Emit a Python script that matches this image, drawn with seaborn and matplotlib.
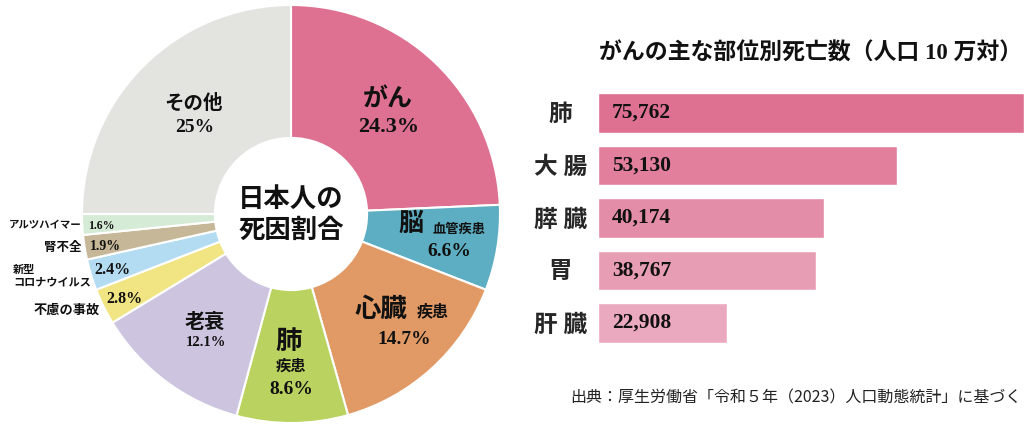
import numpy as np
import pandas as pd
import seaborn as sns
import matplotlib.pyplot as plt

# 死因割合 (%)
causes = ["がん", "脳血管疾患", "心臓疾患", "肺疾患", "老衰", "不慮の事故",
          "新型コロナウイルス", "腎不全", "アルツハイマー", "その他"]
shares = [24.3, 6.6, 14.7, 8.6, 12.1, 2.8, 2.4, 1.9, 1.6, 25]
pie_colors = ["#de7191", "#5daec3", "#e19a66", "#b9d260", "#cdc5e0",
              "#f0e483", "#b3dcf2", "#c5b797", "#d6ebd5", "#e3e3df"]

# がんの主な部位別死亡数
sites = ["肺", "大腸", "膵臓", "胃", "肝臓"]
deaths = [75762, 53130, 40174, 38767, 22908]
bar_colors = ["#de7191", "#e17f9d", "#e48da8", "#e79db4", "#eba9c0"]

title = "がんの主な部位別死亡数（人口 10 万対）"
source = "出典：厚生労働省「令和５年（2023）人口動態統計」に基づく"

sns.set_style("white")
plt.rcParams["font.family"] = ["Noto Sans CJK JP", "DejaVu Sans"]
serif = ["Liberation Serif", "Noto Sans CJK JP"]

fig = plt.figure(figsize=(10.24, 4.3), dpi=100)

# ---- donut ----
W, H = 1024, 430
cx, cy, R = 291, 214, 209
pax = fig.add_axes([(cx - R) / W, (H - cy - R) / H, 2 * R / W, 2 * R / H])
wedges, _ = pax.pie(shares, colors=pie_colors, startangle=90, counterclock=False,
                    radius=1, wedgeprops=dict(width=0.636, edgecolor="white", linewidth=1.5))
pax.set_xlim(-1, 1)
pax.set_ylim(-1, 1)
pax.set_aspect("equal")
pax.axis("off")


def px(x, y):
    # reference pixel -> donut data coords
    return (x - cx) / R, (cy - y) / R


def put(x, y, s, size, ha="center", weight="bold"):
    pax.text(*px(x, y), s, fontsize=size, ha=ha, va="center",
             family=serif, weight=weight, color="#111111")


pct = [f"{v:g}%" for v in shares]

put(291, 199, "日本人の", 19)
put(291, 231, "死因割合", 19)

put(388, 100, "がん", 18)
put(389, 127, pct[0], 16)
put(193, 103, "その他", 14)
put(195, 128, pct[9], 14)
put(411, 224, "脳", 18)
put(459, 230, "血管疾患", 9.5)
put(449, 252, pct[1], 14)
put(381, 310, "心臓", 19)
put(433, 312, "疾患", 11.5)
put(404, 340, pct[2], 14)
put(289, 342, "肺", 19)
put(291, 367, "疾患", 11)
put(291, 389, pct[3], 14)
put(205, 323, "老衰", 14.5)
put(206, 343, pct[4], 10.5)
put(124, 299, pct[5], 11.5)
put(112, 270, pct[6], 11.5)
put(105, 247, pct[7], 10)
put(101, 226, pct[8], 8.5)

put(100, 311, "不慮の事故", 9.5, ha="right")
put(13, 270, "新型", 8, ha="left")
put(13, 283, "コロナウイルス", 8, ha="left")
put(81, 248, "腎不全", 9, ha="right")
put(81, 226, "アルツハイマー", 7.5, ha="right")

# ---- bars ----
top, bottom = 86.75, 349.25
bax = fig.add_axes([598 / W, (H - bottom) / H, 426 / W, (bottom - top) / H])
df = pd.DataFrame({"site": sites, "deaths": deaths})
sns.barplot(df, x="deaths", y="site", hue="site", palette=bar_colors,
            legend=False, width=0.76, saturation=1, ax=bax)
bax.set_xlim(0, max(deaths))
bax.set_ylim(len(sites) - 0.5, -0.5)
sns.despine(ax=bax, left=True, bottom=True)
bax.set_xticks([])
bax.set_xlabel("")
bax.set_ylabel("")
bax.tick_params(axis="y", length=0, pad=27)
bax.set_yticks(range(len(sites)), [" ".join(s) for s in sites])
for lab in bax.get_yticklabels():
    lab.set_ha("center")
    lab.set_fontsize(17)
    lab.set_fontweight("bold")
    lab.set_family(serif)
for i, v in enumerate(deaths):
    bax.annotate(f"{v:,}", (0, i), xytext=(14, 0), textcoords="offset pixels",
                 va="center", ha="left", fontsize=15.5, family=serif,
                 weight="bold", color="#111111")

fig.text(811 / W, 1 - 53 / H, title, ha="center", va="center",
         fontsize=16.5, weight="bold", family=serif, color="#111111")
fig.text(1022 / W, 1 - 398 / H, source, ha="right", va="center",
         fontsize=11.5, color="#222222")

fig.savefig("out.png", dpi=100)
